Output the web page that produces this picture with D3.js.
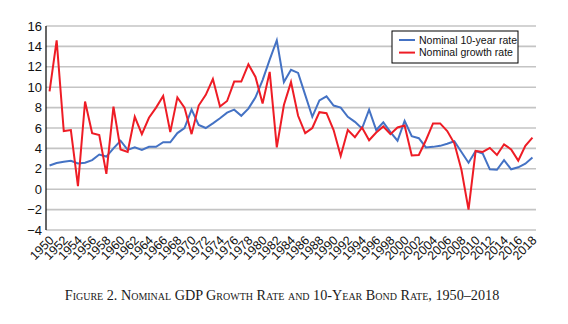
<!DOCTYPE html>
<html>
<head>
  <script src="https://cdn.jsdelivr.net/npm/d3@7"></script>
  <style type="text/css">
    body { margin: 0; background: #fff; }
    .grid line { stroke: #c4c4c4; stroke-width: 1.6px; }
    .tick-y { font-family: "Liberation Sans", Arial, sans-serif; font-size: 13px; fill: #111; }
    .tick-x { font-family: "Liberation Sans", Arial, sans-serif; font-size: 12.5px; fill: #111; }
    .legend text { font-family: "Liberation Sans", Arial, sans-serif; font-size: 10.5px; fill: #111; }
    .caption { font-family: "Liberation Serif", "Times New Roman", serif; font-size: 14.2px; font-variant: small-caps; fill: #1a1a1a; }
  </style>
</head>
<body>
<svg id="chart" width="568" height="324"></svg>

<script type="text/javascript">
// annual values, 1950..2018
const years = d3.range(1950, 2019);

const bondRate = [
  2.33, 2.56, 2.69, 2.79, 2.52, 2.6, 2.85, 3.4, 3.2, 4.0,
  4.75, 3.85, 4.1, 3.85, 4.15, 4.15, 4.6, 4.6, 5.5, 6.0,
  7.8, 6.3, 6.0, 6.45, 6.95, 7.5, 7.8, 7.2, 7.9, 9.0,
  10.7, 12.7, 14.6, 10.5, 11.7, 11.4, 9.25, 7.1, 8.7, 9.1,
  8.2, 8.0, 7.1, 6.6, 5.95, 7.8, 5.8, 6.55, 5.6, 4.75,
  6.7, 5.2, 5.0, 4.1, 4.15, 4.25, 4.45, 4.7, 3.65, 2.6,
  3.75, 3.5, 1.95, 1.9, 2.85, 1.95, 2.15, 2.5, 3.1
];

const growthRate = [
  9.6, 14.6, 5.7, 5.8, 0.3, 8.6, 5.5, 5.3, 1.5, 8.1,
  3.9, 3.65, 7.1, 5.4, 7.0, 8.0, 9.15, 5.6, 9.0, 8.0,
  5.4, 8.2, 9.25, 10.8, 8.1, 8.65, 10.55, 10.55, 12.25, 11.0,
  8.4, 11.5, 4.1, 8.25, 10.5, 7.2, 5.5, 6.0, 7.55, 7.45,
  5.8, 3.25, 5.8, 5.1, 6.05, 4.8, 5.55, 6.15, 5.4, 6.05,
  6.25, 3.3, 3.35, 4.8, 6.45, 6.45, 5.7, 4.5, 1.9, -2.0,
  3.75, 3.65, 4.05, 3.35, 4.4, 3.9, 2.8, 4.25, 5.05
];

const yTicks = d3.range(-4, 17, 2);
const xLabels = years.filter(y => y % 2 === 0);

const series = [
  { name: 'Nominal 10-year rate', values: bondRate, color: '#4472c4' },
  { name: 'Nominal growth rate', values: growthRate, color: '#ee1c25' }
];

const svg = d3.select('#chart');

const x = d3.scaleBand().domain(years).range([46, 536]);
const y = d3.scaleLinear().domain([-4, 16]).range([230, 26]);
const cx = d => x(d) + x.bandwidth() / 2;

// horizontal gridlines
svg.append('g').attr('class', 'grid')
  .selectAll('line').data(yTicks).enter()
  .append('line')
  .attr('x1', 46).attr('x2', 536)
  .attr('y1', d => y(d)).attr('y2', d => y(d));

// y axis line + labels
svg.append('line')
  .attr('x1', 46).attr('x2', 46)
  .attr('y1', y(16)).attr('y2', y(-4))
  .attr('stroke', '#000').attr('stroke-width', 1.2);

svg.append('g')
  .selectAll('text').data(yTicks).enter()
  .append('text')
  .attr('class', 'tick-y')
  .attr('x', 42)
  .attr('y', d => y(d))
  .attr('dy', '0.36em')
  .attr('text-anchor', 'end')
  .text(d => d < 0 ? '\u2212' + Math.abs(d) : d);

// rotated year labels
svg.append('g')
  .selectAll('text').data(xLabels).enter()
  .append('text')
  .attr('class', 'tick-x')
  .attr('text-anchor', 'end')
  .attr('transform', d => `translate(${cx(d) + 5},${241}) rotate(-45)`)
  .text(d => d);

// the two lines
const line = d3.line()
  .x((d, i) => cx(years[i]))
  .y(d => y(d));

svg.append('g')
  .selectAll('path').data(series).enter()
  .append('path')
  .attr('fill', 'none')
  .attr('stroke', d => d.color)
  .attr('stroke-width', 2)
  .attr('stroke-linejoin', 'miter')
  .attr('d', d => line(d.values));

// legend
const legend = svg.append('g').attr('class', 'legend');
legend.append('rect')
  .attr('x', 392).attr('y', 31)
  .attr('width', 126).attr('height', 32)
  .attr('fill', '#fff')
  .attr('stroke', '#000').attr('stroke-width', 1);

const item = legend.selectAll('g.item').data(series).enter()
  .append('g').attr('class', 'item')
  .attr('transform', (d, i) => `translate(0,${40 + i * 12.6})`);

item.append('line')
  .attr('x1', 399).attr('x2', 415)
  .attr('stroke', d => d.color).attr('stroke-width', 2);

item.append('text')
  .attr('x', 419)
  .attr('dy', '0.36em')
  .text(d => d.name);

// caption
svg.append('text')
  .attr('class', 'caption')
  .attr('x', 282).attr('y', 300)
  .attr('text-anchor', 'middle')
  .text('Figure 2. Nominal GDP Growth Rate and 10-Year Bond Rate, 1950\u20132018');
</script>
</body>
</html>
